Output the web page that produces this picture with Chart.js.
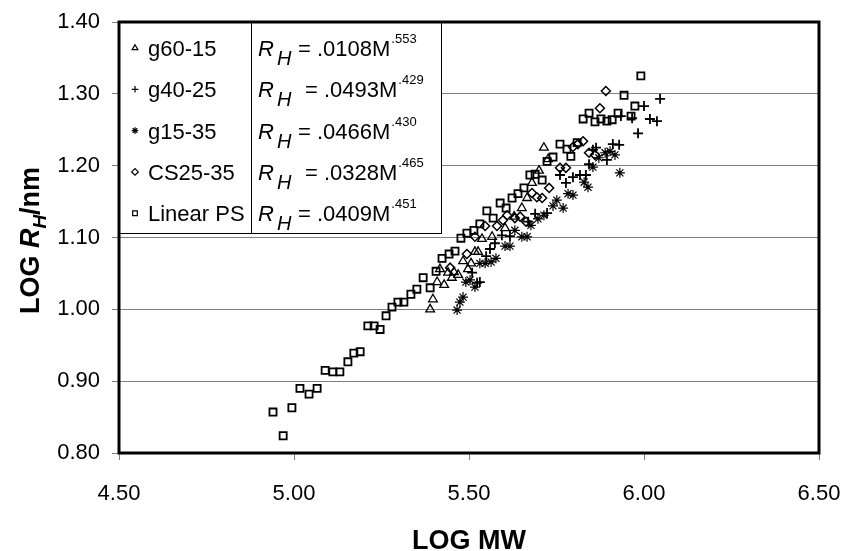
<!DOCTYPE html>
<html>
<head>
<meta charset="utf-8">
<title>LOG RH vs LOG MW</title>
<script src="https://cdn.jsdelivr.net/npm/chart.js@4.4.1/dist/chart.umd.min.js"></script>
<style>
  body { margin: 0; background: #fff; }
  #wrap { width: 842px; height: 551px; }
</style>
</head>
<body>
<div id="wrap"><canvas id="myChart" width="842" height="551"></canvas></div>
<script>
// legend: series names and the fitted power laws
const seriesNames = ['g60-15', 'g40-25', 'g15-35', 'CS25-35', 'Linear PS']
const fitCoef = ['.0108', '.0493', '.0466', '.0328', '.0409']
const fitExp = ['.553', '.429', '.430', '.465', '.451']
const fitGap = [false, true, false, true, false]   // rows 2 and 4 have a wider gap before "="

const xRange = [4.5, 6.5]
const yRange = [0.8, 1.4]

// g60-15 (triangles)
const g6015X = [5.389, 5.397, 5.409, 5.417, 5.429, 5.440, 5.451, 5.457, 5.469, 5.483, 5.497, 5.506, 5.517, 5.526, 5.537, 5.566, 5.603, 5.629, 5.651, 5.666, 5.680, 5.700, 5.714, 5.726]
const g6015Y = [1.000, 1.014, 1.038, 1.056, 1.034, 1.051, 1.044, 1.052, 1.048, 1.067, 1.056, 1.064, 1.080, 1.080, 1.098, 1.101, 1.113, 1.129, 1.141, 1.155, 1.176, 1.193, 1.225, 1.209]

// g40-25 (plus)
const g4025X = [5.509, 5.523, 5.531, 5.549, 5.560, 5.574, 5.594, 5.617, 5.669, 5.689, 5.723, 5.760, 5.777, 5.797, 5.817, 5.834, 5.843, 5.854, 5.863, 5.894, 5.911, 5.929, 5.934, 5.966, 5.983, 6.000, 6.017, 6.037, 6.046]
const g4025Y = [1.051, 1.037, 1.038, 1.074, 1.084, 1.092, 1.103, 1.102, 1.122, 1.133, 1.134, 1.187, 1.176, 1.184, 1.187, 1.187, 1.202, 1.222, 1.225, 1.208, 1.230, 1.229, 1.269, 1.266, 1.245, 1.283, 1.265, 1.262, 1.293]

// g15-35 (stars)
const g1535X = [5.466, 5.474, 5.483, 5.491, 5.503, 5.517, 5.531, 5.546, 5.563, 5.577, 5.603, 5.617, 5.631, 5.651, 5.666, 5.677, 5.697, 5.714, 5.740, 5.751, 5.769, 5.783, 5.797, 5.829, 5.840, 5.854, 5.871, 5.889, 5.903, 5.917, 5.931]
const g1535Y = [0.999, 1.010, 1.017, 1.038, 1.041, 1.031, 1.064, 1.064, 1.066, 1.071, 1.088, 1.088, 1.110, 1.101, 1.101, 1.117, 1.126, 1.131, 1.144, 1.152, 1.141, 1.161, 1.159, 1.177, 1.170, 1.198, 1.211, 1.218, 1.220, 1.215, 1.190]

// CS25-35 (diamonds)
const cs2535X = [5.446, 5.494, 5.517, 5.546, 5.580, 5.597, 5.609, 5.631, 5.646, 5.663, 5.680, 5.694, 5.709, 5.729, 5.760, 5.777, 5.797, 5.811, 5.826, 5.843, 5.860, 5.874, 5.891]
const cs2535Y = [1.058, 1.077, 1.101, 1.116, 1.116, 1.124, 1.131, 1.127, 1.129, 1.122, 1.162, 1.156, 1.155, 1.169, 1.197, 1.197, 1.226, 1.230, 1.234, 1.218, 1.215, 1.280, 1.304]

// Linear PS (squares)
const linPsX = [4.940, 4.969, 4.994, 5.017, 5.043, 5.066, 5.089, 5.111, 5.131, 5.154, 5.171, 5.189, 5.211, 5.229, 5.246, 5.263, 5.280, 5.297, 5.314, 5.334, 5.351, 5.369, 5.389, 5.406, 5.423, 5.443, 5.460, 5.477, 5.494, 5.514, 5.531, 5.551, 5.569, 5.589, 5.606, 5.623, 5.640, 5.657, 5.674, 5.689, 5.709, 5.723, 5.740, 5.760, 5.780, 5.791, 5.809, 5.826, 5.843, 5.860, 5.877, 5.894, 5.909, 5.926, 5.943, 5.963, 5.974, 5.991]
const linPsY = [0.857, 0.824, 0.863, 0.890, 0.882, 0.890, 0.915, 0.913, 0.913, 0.927, 0.939, 0.941, 0.977, 0.977, 0.972, 0.991, 1.003, 1.010, 1.010, 1.021, 1.028, 1.044, 1.030, 1.053, 1.071, 1.077, 1.081, 1.099, 1.106, 1.110, 1.119, 1.137, 1.127, 1.148, 1.141, 1.155, 1.161, 1.169, 1.187, 1.188, 1.180, 1.206, 1.212, 1.230, 1.223, 1.213, 1.232, 1.265, 1.273, 1.261, 1.265, 1.262, 1.264, 1.273, 1.298, 1.269, 1.283, 1.325]

const FONT = '"Liberation Sans", Arial, sans-serif'

const toPoints = (xs, ys) => xs.map((x, i) => ({ x: x, y: ys[i] }))

const markerStyles = [
    { pointStyle: 'triangle', radius: 5, borderWidth: 1.3 },
    { pointStyle: 'cross', radius: 5, borderWidth: 1.8 },
    { pointStyle: 'star', radius: 5, borderWidth: 1.2 },
    { pointStyle: 'rectRot', radius: 4.5, borderWidth: 1.5 },
    { pointStyle: 'rect', radius: 5, borderWidth: 1.8 }
]

const seriesData = [
    toPoints(g6015X, g6015Y),
    toPoints(g4025X, g4025Y),
    toPoints(g1535X, g1535Y),
    toPoints(cs2535X, cs2535Y),
    toPoints(linPsX, linPsY)
]

const datasets = seriesNames.map((name, i) => ({
    label: name,
    data: seriesData[i],
    pointStyle: markerStyles[i].pointStyle,
    pointRadius: markerStyles[i].radius,
    pointBorderWidth: markerStyles[i].borderWidth,
    pointBorderColor: '#000',
    pointBackgroundColor: 'rgba(0,0,0,0)',
    showLine: false
}))

// legend box, plot frame and axis titles
const decor = {
    id: 'decor',
    afterDraw(chart) {
        const { ctx, chartArea: a } = chart
        ctx.save()

        // legend box over the top-left corner
        const boxW = 322, boxH = 211, colW = 132
        ctx.fillStyle = '#fff'
        ctx.fillRect(a.left, a.top, boxW, boxH)
        ctx.strokeStyle = '#000'
        ctx.lineWidth = 1
        ctx.strokeRect(a.left + 0.5, a.top + 0.5, boxW, boxH)
        ctx.beginPath()
        ctx.moveTo(a.left + colW + 0.5, a.top)
        ctx.lineTo(a.left + colW + 0.5, a.top + boxH)
        ctx.stroke()

        ctx.textAlign = 'left'
        ctx.textBaseline = 'alphabetic'
        seriesNames.forEach((name, i) => {
            const cy = a.top + 26 + i * 41.3
            const base = cy + 8
            // marker
            const m = markerStyles[i]
            ctx.fillStyle = 'rgba(0,0,0,0)'
            ctx.strokeStyle = '#000'
            ctx.lineWidth = 1.2
            Chart.helpers.drawPoint(ctx, { pointStyle: m.pointStyle, radius: 3.3, rotation: 0, borderWidth: 1.2 }, a.left + 16, cy)
            ctx.fillStyle = '#000'
            ctx.font = '22px ' + FONT
            ctx.fillText(name, a.left + 29, base)

            // R_H = c M^e
            let x = a.left + 139
            ctx.font = 'italic 22px ' + FONT
            ctx.fillText('R', x, base)
            ctx.font = 'italic 20px ' + FONT
            ctx.fillText('H', x + 19, base + 9)
            x += fitGap[i] ? 47 : 40
            ctx.font = '22px ' + FONT
            const main = '= ' + fitCoef[i] + 'M'
            ctx.fillText(main, x, base)
            x += ctx.measureText(main).width + 1
            ctx.font = '13px ' + FONT
            ctx.fillText(fitExp[i], x, base - 13)
        })

        // plot frame
        ctx.strokeStyle = '#000'
        ctx.lineWidth = 3
        ctx.strokeRect(a.left, a.top, a.right - a.left, a.bottom - a.top)

        // x title
        ctx.fillStyle = '#000'
        ctx.textAlign = 'center'
        ctx.font = 'bold 27px ' + FONT
        ctx.fillText('LOG MW', (a.left + a.right) / 2, 549)

        // y title, rotated
        const parts = [
            { t: 'LOG ', f: 'bold 27px ' + FONT, dy: 0 },
            { t: 'R', f: 'bold italic 27px ' + FONT, dy: 0 },
            { t: 'H', f: 'bold italic 19px ' + FONT, dy: 7 },
            { t: '/nm', f: 'bold 27px ' + FONT, dy: 0 }
        ]
        let total = 0
        parts.forEach(p => { ctx.font = p.f; p.w = ctx.measureText(p.t).width; total += p.w })
        ctx.translate(39, (a.top + a.bottom) / 2 + 3)
        ctx.rotate(-Math.PI / 2)
        ctx.textAlign = 'left'
        let px = -total / 2
        parts.forEach(p => {
            ctx.font = p.f
            ctx.fillText(p.t, px, p.dy)
            px += p.w
        })
        ctx.restore()
    }
}

const config = {
    type: 'scatter',
    data: { datasets: datasets },
    options: {
        responsive: false,
        animation: false,
        events: [],
        layout: { padding: { top: 22, right: 23, bottom: 0, left: 0 } },
        plugins: {
            legend: { display: false },
            tooltip: { enabled: false }
        },
        scales: {
            x: {
                type: 'linear',
                min: xRange[0],
                max: xRange[1],
                ticks: {
                    stepSize: 0.5,
                    color: '#000',
                    font: { family: FONT, size: 22 },
                    padding: 21,
                    maxRotation: 0,
                    callback: v => v.toFixed(2)
                },
                grid: { drawOnChartArea: false, tickLength: 7, tickColor: '#808080' },
                border: { display: false },
                afterFit: s => { s.height = 98; s.paddingLeft = 0; s.paddingRight = 0 }
            },
            y: {
                min: yRange[0],
                max: yRange[1],
                ticks: {
                    stepSize: 0.1,
                    color: '#000',
                    font: { family: FONT, size: 22 },
                    padding: 12,
                    callback: v => v.toFixed(2)
                },
                grid: { color: '#808080', lineWidth: 1, tickLength: 7, tickColor: '#808080' },
                border: { display: false },
                afterFit: s => { s.width = 119; s.paddingTop = 0; s.paddingBottom = 0 }
            }
        }
    },
    plugins: [decor]
}

const ctx = document.getElementById('myChart').getContext('2d')
const chart = new Chart(ctx, config)
</script>
</body>
</html>
